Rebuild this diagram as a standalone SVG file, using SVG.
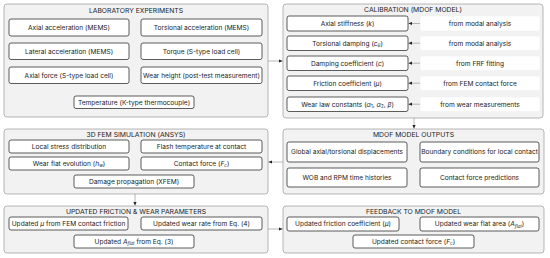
<svg xmlns="http://www.w3.org/2000/svg" width="550" height="258" viewBox="0 0 550 258">
<style>
.panel{fill:#f2f2f2;stroke:#9a9a9a;stroke-width:0.7}
.box{fill:#fff;stroke:#333;stroke-width:0.8}
.src{fill:#fff;stroke:#eeeeee;stroke-width:0.5}
text{font-family:Inter,"Liberation Sans",sans-serif;font-size:6.6px;fill:#222;text-anchor:middle}
.t{font-size:6.8px}
.s{font-size:4.5px}
.conn{stroke:#8a8a8a;stroke-width:0.6;fill:none;marker-end:url(#ah)}
</style>
<defs>
<marker id="ah" markerWidth="4" markerHeight="4" refX="3.5" refY="2" orient="auto" markerUnits="userSpaceOnUse">
<path d="M0,0.4 L3.6,2 L0,3.6 Z" fill="#222"/>
</marker>
</defs>
<rect width="550" height="258" fill="#fff"/>

<g id="lab">
<rect class="panel" x="4" y="4" width="264" height="113" rx="3"/>
<text class="t" x="136" y="12.8">LABORATORY EXPERIMENTS</text>
<rect class="box" x="9" y="19" width="120" height="17" rx="2"/>
<text x="69" y="29.7">Axial acceleration (MEMS)</text>
<rect class="box" x="141" y="19" width="121" height="17" rx="2"/>
<text x="201.5" y="29.7">Torsional acceleration (MEMS)</text>
<rect class="box" x="9" y="43" width="120" height="16.5" rx="2"/>
<text x="69" y="53.5">Lateral acceleration (MEMS)</text>
<rect class="box" x="141" y="43" width="121" height="16.5" rx="2"/>
<text x="201.5" y="53.5">Torque (S-type load cell)</text>
<rect class="box" x="9" y="67" width="120" height="16.5" rx="2"/>
<text x="69" y="77.5">Axial force (S-type load cell)</text>
<rect class="box" x="141" y="67" width="121" height="16.5" rx="2"/>
<text x="201.5" y="77.5">Wear height (post-test measurement)</text>
<rect class="box" x="74" y="96" width="120" height="12.5" rx="2"/>
<text x="134" y="104.5">Temperature (K-type thermocouple)</text>
</g>

<g id="calibration">
<rect class="panel" x="283" y="4" width="260" height="114" rx="3"/>
<text class="t" x="413" y="12.3">CALIBRATION (MDOF MODEL)</text>
<rect class="box" x="287" y="16" width="121" height="15" rx="2"/>
<text x="347.5" y="25.8">Axial stiffness (<tspan font-style="italic">k</tspan>)</text>
<rect class="box" x="287" y="36" width="121" height="14.5" rx="2"/>
<text x="347.5" y="45.5">Torsional damping (<tspan font-style="italic">c</tspan><tspan class="s" dy="1.3" font-style="italic">θ</tspan><tspan dy="-1.3">)</tspan></text>
<rect class="box" x="287" y="56" width="121" height="14.5" rx="2"/>
<text x="347.5" y="65.5">Damping coefficient (<tspan font-style="italic">c</tspan>)</text>
<rect class="box" x="287" y="76" width="121" height="14.5" rx="2"/>
<text x="347.5" y="85.5">Friction coefficient (<tspan font-style="italic">μ</tspan>)</text>
<rect class="box" x="287" y="97" width="121" height="14.5" rx="2"/>
<text x="347.5" y="106.5">Wear law constants (<tspan font-style="italic">α</tspan><tspan class="s" dy="1.3">1</tspan><tspan dy="-1.3">, </tspan><tspan font-style="italic">α</tspan><tspan class="s" dy="1.3">2</tspan><tspan dy="-1.3">, </tspan><tspan font-style="italic">β</tspan>)</text>
<rect class="src" x="420" y="16" width="120" height="15" rx="2"/>
<text x="480" y="25.8">from modal analysis</text>
<rect class="src" x="420" y="36" width="120" height="14.5" rx="2"/>
<text x="480" y="45.5">from modal analysis</text>
<rect class="src" x="420" y="56" width="120" height="14.5" rx="2"/>
<text x="480" y="65.5">from FRF fitting</text>
<rect class="src" x="420" y="76" width="120" height="14.5" rx="2"/>
<text x="480" y="85.5">from FEM contact force</text>
<rect class="src" x="420" y="97" width="120" height="14.5" rx="2"/>
<text x="480" y="106.5">from wear measurements</text>
</g>

<g id="fem">
<rect class="panel" x="4" y="129" width="264" height="65" rx="3"/>
<text class="t" x="136" y="137.3">3D FEM SIMULATION (ANSYS)</text>
<rect class="box" x="9" y="140" width="120" height="13" rx="2"/>
<text x="69" y="148.8">Local stress distribution</text>
<rect class="box" x="141" y="140" width="121" height="13" rx="2"/>
<text x="201.5" y="148.8">Flash temperature at contact</text>
<rect class="box" x="9" y="157" width="120" height="13" rx="2"/>
<text x="69" y="165.8">Wear flat evolution (<tspan font-style="italic">h</tspan><tspan class="s" dy="1.3" font-style="italic">w</tspan><tspan dy="-1.3">)</tspan></text>
<rect class="box" x="141" y="157" width="121" height="13" rx="2"/>
<text x="201.5" y="165.8">Contact force (<tspan font-style="italic">F</tspan><tspan class="s" dy="1.3" font-style="italic">c</tspan><tspan dy="-1.3">)</tspan></text>
<rect class="box" x="74" y="175" width="120" height="13" rx="2"/>
<text x="134" y="183.8">Damage propagation (XFEM)</text>
</g>

<g id="mdof_outputs">
<rect class="panel" x="283" y="129" width="261" height="65" rx="3"/>
<text class="t" x="413.5" y="137.3">MDOF MODEL OUTPUTS</text>
<rect class="box" x="287" y="142" width="120" height="20" rx="2"/>
<text x="347" y="154.4">Global axial/torsional displacements</text>
<rect class="box" x="420" y="142" width="119" height="20" rx="2"/>
<text x="479.5" y="154.4">Boundary conditions for local contact</text>
<rect class="box" x="287" y="168" width="120" height="19" rx="2"/>
<text x="347" y="179.9">WOB and RPM time histories</text>
<rect class="box" x="420" y="168" width="119" height="19" rx="2"/>
<text x="479.5" y="179.9">Contact force predictions</text>
</g>

<g id="updated_params">
<rect class="panel" x="4" y="206" width="264" height="47" rx="3"/>
<text class="t" x="136" y="214.3">UPDATED FRICTION &amp; WEAR PARAMETERS</text>
<rect class="box" x="9" y="217" width="119" height="13" rx="2"/>
<text x="68.5" y="225.8">Updated <tspan font-style="italic">μ</tspan> from FEM contact friction</text>
<rect class="box" x="141" y="217" width="121" height="13" rx="2"/>
<text x="201.5" y="225.8">Updated wear rate from Eq. (4)</text>
<rect class="box" x="74" y="235" width="120" height="13" rx="2"/>
<text x="134" y="243.8">Updated <tspan font-style="italic">A</tspan><tspan class="s" dy="1.3" font-style="italic">flat</tspan><tspan dy="-1.3"> from Eq. (3)</tspan></text>
</g>

<g id="feedback">
<rect class="panel" x="283" y="206" width="261" height="47" rx="3"/>
<text class="t" x="413.5" y="214.3">FEEDBACK TO MDOF MODEL</text>
<rect class="box" x="287" y="217" width="112" height="14" rx="2"/>
<text x="343" y="226.3">Updated friction coefficient (<tspan font-style="italic">μ</tspan>)</text>
<rect class="box" x="420" y="217" width="119" height="14" rx="2"/>
<text x="479.5" y="226.3">Updated wear flat area (<tspan font-style="italic">A</tspan><tspan class="s" dy="1.3" font-style="italic">flat</tspan><tspan dy="-1.3">)</tspan></text>
<rect class="box" x="353" y="235" width="121" height="13" rx="2"/>
<text x="413.5" y="243.8">Updated contact force (<tspan font-style="italic">F</tspan><tspan class="s" dy="1.3" font-style="italic">c</tspan><tspan dy="-1.3">)</tspan></text>
</g>

<g id="connectors">
<line class="conn" x1="268" y1="61" x2="282.5" y2="61"/>
<line class="conn" x1="420" y1="23.5" x2="408.5" y2="23.5"/>
<line class="conn" x1="420" y1="43.2" x2="408.5" y2="43.2"/>
<line class="conn" x1="420" y1="63.2" x2="408.5" y2="63.2"/>
<line class="conn" x1="420" y1="83.2" x2="408.5" y2="83.2"/>
<line class="conn" x1="420" y1="104.2" x2="408.5" y2="104.2"/>
<line class="conn" x1="414" y1="118" x2="414" y2="128.5"/>
<line class="conn" x1="283" y1="162" x2="268.5" y2="162"/>
<line class="conn" x1="135" y1="194" x2="135" y2="205.5"/>
<line class="conn" x1="268" y1="229" x2="282.5" y2="229"/>
</g>
</svg>
